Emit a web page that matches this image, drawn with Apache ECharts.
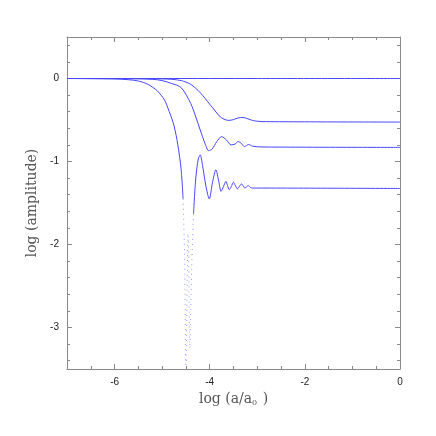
<!DOCTYPE html>
<html>
<head>
<meta charset="utf-8">
<script src="https://cdn.jsdelivr.net/npm/echarts@6/dist/echarts.min.js"></script>
<style>
html, body { margin: 0; padding: 0; background: #fff; }
#chart { width: 436px; height: 436px; }
</style>
</head>
<body>
<div id="chart"></div>
<script>
// tick positions / labels
var xLabels = [-6, -4, -2, 0]
var yLabels = [0, -1, -2, -3]
var xMajorTicks = [-6, -4, -2]
var yMajorTicks = [0, -1, -2, -3]
var xMinorTicks = [-6.5, -6, -5.5, -5, -4.5, -4, -3.5, -3, -2.5, -2, -1.5, -1, -0.5]
var yMinorTicks = [0.4, 0.2, 0, -0.2, -0.4, -0.6, -0.8, -1, -1.2, -1.4, -1.6, -1.8, -2,
  -2.2, -2.4, -2.6, -2.8, -3, -3.2, -3.4]

// curve 1: unchanged amplitude
var c1x = [-7, -5, -3, 0]
var c1y = [0, 0, 0, 0]

// curve 2
var c2x = [-7, -5.0, -4.8, -4.6, -4.4, -4.2, -4.0, -3.9, -3.8, -3.7, -3.6, -3.5, -3.4, -3.3,
  -3.2, -3.1, -3.0, -2.8, 0]
var c2y = [0, -0.005, -0.01, -0.025, -0.07, -0.17, -0.31, -0.38, -0.45, -0.49, -0.505, -0.495,
  -0.475, -0.47, -0.485, -0.505, -0.515, -0.52, -0.525]

// curve 3
var c3x = [-7, -5.5, -5.2, -5.0, -4.8, -4.6, -4.4, -4.3, -4.2, -4.1, -4.02, -3.95, -3.85, -3.75,
  -3.65, -3.55, -3.47, -3.40, -3.33, -3.27, -3.18, -3.1, -2.9, 0]
var c3y = [0, -0.002, -0.01, -0.025, -0.06, -0.11, -0.30, -0.45, -0.62, -0.78, -0.87, -0.85,
  -0.76, -0.70, -0.74, -0.80, -0.79, -0.76, -0.785, -0.82, -0.795, -0.815, -0.825, -0.83]

// curve 4 (deep dip)
var c4x = [-7, -6.0, -5.7, -5.5, -5.3, -5.1, -4.95, -4.85, -4.75, -4.67, -4.6, -4.56,
  -4.53, -4.5, -4.47, -4.455, -4.44, -4.42, -4.38, -4.34,
  -4.30, -4.27, -4.24, -4.20, -4.15, -4.10, -4.05, -4.01, -3.94, -3.87, -3.81, -3.76, -3.71,
  -3.66, -3.625, -3.59, -3.545, -3.50, -3.46, -3.42, -3.375, -3.33, -3.295, -3.26, -3.225,
  -3.19, -3.15, -3.10, -3.0, 0]
var c4y = [0, -0.005, -0.015, -0.03, -0.07, -0.15, -0.26, -0.40, -0.57, -0.80, -1.10, -1.45,
  -2.1, -3.45, -2.3, -1.87, -2.2, -3.25, -2.3, -1.63,
  -1.25, -1.08, -0.97, -0.92, -1.05, -1.23, -1.38, -1.45, -1.25, -1.10, -1.24, -1.36, -1.30,
  -1.24, -1.29, -1.34, -1.30, -1.25, -1.29, -1.33, -1.30, -1.27, -1.295, -1.32, -1.305,
  -1.29, -1.31, -1.32, -1.32, -1.325]

var lineColor = '#4646ff'
var frameColor = '#8a8a8a'

function pairs (xs, ys, lo, hi) {
  var out = []
  xs.forEach(function (x, i) {
    if (x >= lo && x <= hi) out.push([x, ys[i]])
  })
  return out
}

function curve (data, dotted) {
  return {
    type: 'line',
    xAxisIndex: 0,
    yAxisIndex: 0,
    data: data,
    smooth: 0.3,
    showSymbol: false,
    silent: true,
    lineStyle: dotted
      ? { color: '#9a9aff', width: 1, type: [1, 4] }
      : { color: lineColor, width: 1 }
  }
}

function axis (dim, position, ticks, len, main) {
  return {
    type: 'value',
    position: position,
    min: dim === 'x' ? -7 : -3.5,
    max: dim === 'x' ? 0 : 0.5,
    splitLine: { show: false },
    axisLine: { show: main, onZero: false, lineStyle: { color: frameColor, width: 1 } },
    axisTick: {
      show: true,
      inside: true,
      length: len,
      customValues: ticks,
      lineStyle: { color: frameColor, width: 1 }
    },
    axisLabel: { show: false }
  }
}

var xBottom = axis('x', 'bottom', xMinorTicks, 3, true)
xBottom.axisLabel = {
  show: true,
  customValues: xLabels,
  margin: 8,
  fontFamily: 'Liberation Sans',
  fontSize: 10,
  color: '#222'
}
xBottom.name = 'log (a/a{s|0} )'
xBottom.nameLocation = 'middle'
xBottom.nameGap = 16
xBottom.nameTextStyle = {
  fontFamily: 'DejaVu Serif',
  fontSize: 14,
  color: '#555',
  rich: {
    s: { fontFamily: 'DejaVu Serif', fontSize: 8, color: '#555', padding: [9, 1, 0, 0] }
  }
}

var yLeft = axis('y', 'left', yMinorTicks, 3, true)
yLeft.axisLabel = {
  show: true,
  customValues: yLabels,
  margin: 8,
  fontFamily: 'Liberation Sans',
  fontSize: 10,
  color: '#222'
}
yLeft.name = 'log (amplitude)'
yLeft.nameLocation = 'middle'
yLeft.nameGap = 27
yLeft.nameTextStyle = {
  fontFamily: 'DejaVu Serif',
  fontSize: 14,
  color: '#555'
}

var option = {
  animation: false,
  backgroundColor: '#fff',
  grid: { left: 67, right: 36, top: 37, bottom: 67, outerBoundsMode: 'none' },
  xAxis: [
    xBottom,
    axis('x', 'bottom', xMajorTicks, 5, false),
    axis('x', 'top', xMinorTicks, 3, true),
    axis('x', 'top', xMajorTicks, 5, false)
  ],
  yAxis: [
    yLeft,
    axis('y', 'left', yMajorTicks, 5, false),
    axis('y', 'right', yMinorTicks, 3, true),
    axis('y', 'right', yMajorTicks, 5, false)
  ],
  series: [
    curve(pairs(c1x, c1y, -7, 0)),
    curve(pairs(c2x, c2y, -7, 0)),
    curve(pairs(c3x, c3y, -7, 0)),
    curve(pairs(c4x, c4y, -7, -4.56)),
    curve(pairs(c4x, c4y, -4.56, -4.34), true),
    curve(pairs(c4x, c4y, -4.34, 0))
  ]
}

var chart = echarts.init(document.getElementById('chart'))
chart.setOption(option)
</script>
</body>
</html>
